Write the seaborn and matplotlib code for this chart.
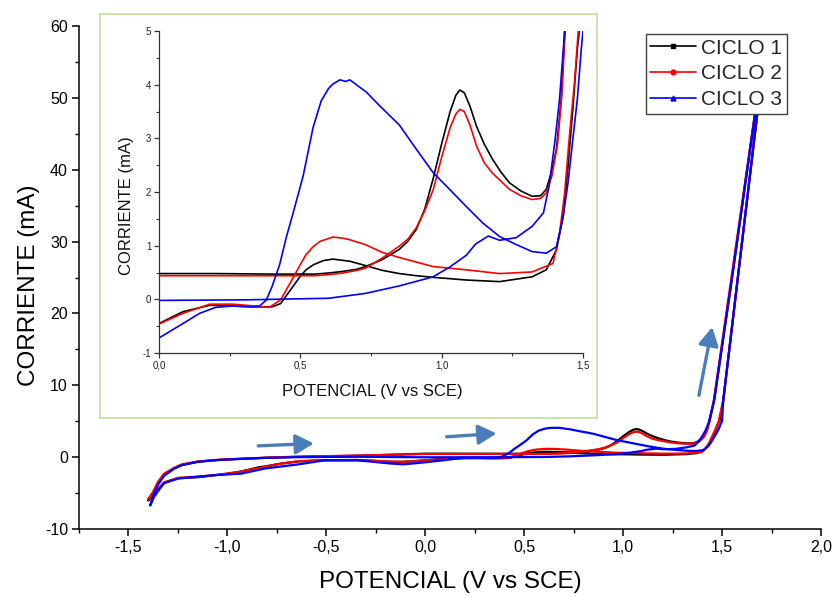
import matplotlib
matplotlib.use("Agg")
import matplotlib.pyplot as plt
from matplotlib.lines import Line2D
from matplotlib.ticker import MultipleLocator, FuncFormatter
import numpy as np
import pandas as pd
import seaborn as sns

# ---------------- data ----------------
ciclos = ["CICLO 1", "CICLO 2", "CICLO 3"]
colores = ["#000000", "#ff0000", "#0000ff"]

# CICLO 1 - forward (upper) branch
c1_ida_v = [-1.40, -1.375, -1.35, -1.32, -1.27, -1.23, -1.15, -1.06, -0.98, -0.81, -0.64, -0.34,
            0.0, 0.2, 0.4, 0.55, 0.6, 0.65, 0.7, 0.73, 0.79, 0.85, 0.88, 0.91, 0.94, 0.97, 1.00,
            1.03, 1.05, 1.064, 1.08, 1.10, 1.123, 1.15, 1.18, 1.21, 1.24, 1.28, 1.32, 1.35, 1.37,
            1.39, 1.406, 1.423, 1.435, 1.46, 1.55, 1.667, 1.70]
c1_ida_i = [-6.0, -5.0, -3.6, -2.5, -1.6, -1.1, -0.65, -0.42, -0.3, -0.1, 0.05, 0.2,
            0.48, 0.48, 0.47, 0.47, 0.49, 0.52, 0.56, 0.61, 0.74, 0.93, 1.08, 1.3, 1.68, 2.25, 2.9,
            3.5, 3.8, 3.9, 3.85, 3.6, 3.23, 2.9, 2.61, 2.37, 2.17, 2.02, 1.92, 1.93, 2.05,
            2.4, 2.8, 3.73, 5.0, 7.9, 24.9, 47.8, 54.0]
# CICLO 1 - reverse (lower) branch
c1_vuelta_v = [1.70, 1.678, 1.60, 1.55, 1.506, 1.487, 1.48, 1.464, 1.447, 1.43, 1.406, 1.37, 1.32,
               1.205, 1.087, 0.97, 0.91, 0.85, 0.79, 0.73, 0.675, 0.615, 0.58, 0.545, 0.52, 0.50,
               0.47, 0.43, 0.40, 0.34, 0.26, 0.18, 0.085, 0.0, -0.11, -0.17, -0.34, -0.51, -0.64,
               -0.73, -0.81, -0.84, -0.93, -1.02, -1.06, -1.15, -1.25, -1.32, -1.34, -1.37, -1.40]
c1_vuelta_i = [54.0, 47.8, 29.7, 18.1, 7.9, 5.0, 4.67, 3.54, 2.48, 1.55, 0.92, 0.55, 0.42,
               0.33, 0.36, 0.41, 0.44, 0.48, 0.54, 0.63, 0.71, 0.75, 0.72, 0.64, 0.55, 0.43,
               0.21, -0.08, -0.14, -0.14, -0.125, -0.11, -0.23, -0.45, -0.65, -0.65, -0.4, -0.42,
               -0.6, -0.9, -1.3, -1.4, -2.0, -2.4, -2.5, -2.8, -2.9, -3.6, -4.3, -5.3, -6.0]

# CICLO 2
c2_ida_v = [-1.40, -1.375, -1.35, -1.32, -1.27, -1.23, -1.15, -1.06, -0.98, -0.81, -0.64, -0.34,
            0.0, 0.2, 0.4, 0.55, 0.6, 0.65, 0.7, 0.73, 0.79, 0.85, 0.88, 0.91, 0.94, 0.97, 1.00,
            1.03, 1.05, 1.064, 1.08, 1.10, 1.123, 1.15, 1.18, 1.24, 1.28, 1.32, 1.35, 1.37, 1.39,
            1.41, 1.425, 1.437, 1.46, 1.55, 1.667, 1.70]
c2_ida_i = [-5.85, -4.8, -3.4, -2.3, -1.5, -1.0, -0.6, -0.4, -0.28, -0.08, 0.07, 0.22,
            0.44, 0.44, 0.44, 0.44, 0.46, 0.49, 0.54, 0.58, 0.77, 0.99, 1.12, 1.33, 1.65, 2.04, 2.65,
            3.2, 3.45, 3.54, 3.5, 3.25, 2.86, 2.55, 2.35, 2.05, 1.93, 1.86, 1.88, 1.98, 2.3,
            2.9, 3.8, 5.0, 8.2, 25.5, 48.0, 54.0]
c2_vuelta_v = [1.70, 1.678, 1.60, 1.55, 1.506, 1.483, 1.47, 1.453, 1.435, 1.417, 1.394, 1.32,
               1.205, 1.087, 0.97, 0.85, 0.79, 0.73, 0.675, 0.65, 0.615, 0.57, 0.545, 0.52, 0.50,
               0.47, 0.43, 0.39, 0.34, 0.26, 0.18, 0.085, 0.0, -0.11, -0.17, -0.34, -0.51, -0.64,
               -0.73, -0.81, -0.93, -1.02, -1.06, -1.15, -1.25, -1.32, -1.34, -1.37, -1.40]
c2_vuelta_i = [54.0, 47.8, 29.7, 18.1, 7.9, 4.98, 4.05, 3.1, 1.98, 1.23, 0.67, 0.51,
               0.48, 0.55, 0.61, 0.78, 0.875, 1.02, 1.11, 1.14, 1.16, 1.08, 0.98, 0.83, 0.65,
               0.36, -0.01, -0.15, -0.125, -0.09, -0.09, -0.26, -0.46, -0.65, -0.62, -0.4, -0.42,
               -0.55, -0.9, -1.35, -2.0, -2.35, -2.5, -2.75, -2.9, -3.5, -4.1, -5.0, -5.85]

# CICLO 3
c3_ida_v = [-1.39, -1.375, -1.35, -1.32, -1.27, -1.23, -1.15, -1.06, -0.98, -0.81, -0.64, -0.34,
            0.0, 0.3, 0.6, 0.73, 0.85, 0.97, 1.028, 1.087, 1.12, 1.165, 1.205, 1.264, 1.32, 1.36,
            1.38, 1.40, 1.417, 1.435, 1.46, 1.55, 1.667, 1.70]
c3_ida_i = [-6.7, -5.3, -3.8, -2.6, -1.6, -1.1, -0.65, -0.42, -0.3, -0.1, 0.0, 0.05,
            -0.02, -0.01, 0.02, 0.11, 0.25, 0.42, 0.6, 0.82, 1.03, 1.18, 1.1, 1.15, 1.36, 1.61,
            2.11, 2.92, 3.73, 4.98, 7.9, 24.9, 47.8, 54.0]
c3_vuelta_v = [1.70, 1.678, 1.60, 1.55, 1.506, 1.50, 1.494, 1.48, 1.464, 1.447, 1.43, 1.406, 1.37,
               1.32, 1.264, 1.205, 1.146, 1.087, 1.028, 0.97, 0.91, 0.85, 0.78, 0.734, 0.675,
               0.66, 0.64, 0.615, 0.60, 0.574, 0.545, 0.51, 0.474, 0.45, 0.427, 0.40, 0.38, 0.356,
               0.32, 0.26, 0.20, 0.144, 0.085, 0.0, -0.11, -0.17, -0.34, -0.51, -0.64, -0.81,
               -0.93, -1.06, -1.15, -1.25, -1.32, -1.34, -1.37, -1.39]
c3_vuelta_i = [54.0, 47.8, 29.7, 18.1, 7.9, 5.0, 4.67, 3.73, 2.98, 2.17, 1.55, 0.98, 0.86,
               0.89, 1.02, 1.17, 1.42, 1.73, 2.05, 2.36, 2.80, 3.25, 3.61, 3.86, 4.09,
               4.06, 4.09, 4.01, 3.93, 3.7, 3.2, 2.3, 1.6, 1.15, 0.65, 0.24, -0.01, -0.125,
               -0.14, -0.125, -0.15, -0.26, -0.45, -0.72, -1.0, -0.9, -0.45, -0.45, -1.0, -1.58,
               -2.3, -2.5, -2.7, -3.0, -3.6, -4.3, -5.5, -6.7]

main_xticks = [-1.5, -1.0, -0.5, 0.0, 0.5, 1.0, 1.5, 2.0]
main_yticks = [-10, 0, 10, 20, 30, 40, 50, 60]
inset_xticks = [0.0, 0.5, 1.0, 1.5]
inset_yticks = [-1, 0, 1, 2, 3, 4, 5]

# ---------------- build table ----------------
frames = []
for name, v_a, i_a, v_b, i_b in [
    (ciclos[0], c1_ida_v, c1_ida_i, c1_vuelta_v, c1_vuelta_i),
    (ciclos[1], c2_ida_v, c2_ida_i, c2_vuelta_v, c2_vuelta_i),
    (ciclos[2], c3_ida_v, c3_ida_i, c3_vuelta_v, c3_vuelta_i),
]:
    frames.append(pd.DataFrame({"potencial": list(v_a) + list(v_b),
                                "corriente": list(i_a) + list(i_b),
                                "ciclo": name}))
df = pd.concat(frames, ignore_index=True)

# ---------------- style ----------------
sns.set_theme(style="white")
plt.rcParams["font.family"] = ["Liberation Sans", "DejaVu Sans"]
plt.rcParams["axes.unicode_minus"] = False

W, H = 833, 597
fig = plt.figure(figsize=(W / 100, H / 100), dpi=100)
fig.patch.set_facecolor("white")

def fr(l, t, r, b):
    return [l / W, 1 - b / H, (r - l) / W, (b - t) / H]

comma = FuncFormatter(lambda x, p: f"{x:.1f}".replace(".", ","))
intfmt = FuncFormatter(lambda x, p: f"{int(round(x))}")

# ---------------- main axes ----------------
ax = fig.add_axes(fr(79, 26, 821, 529))
ax.set_facecolor("white")
sns.lineplot(data=df, x="potencial", y="corriente", hue="ciclo", hue_order=ciclos,
             palette=colores, sort=False, estimator=None, lw=1.6, ax=ax, legend=False)
ax.set_xlim(-1.75, 2.0)
ax.set_ylim(-10, 60)
ax.set_xticks(main_xticks)
ax.set_yticks(main_yticks)
ax.xaxis.set_minor_locator(MultipleLocator(0.25))
ax.yaxis.set_minor_locator(MultipleLocator(5))
ax.xaxis.set_major_formatter(comma)
ax.yaxis.set_major_formatter(intfmt)
for s in ["top", "right"]:
    ax.spines[s].set_visible(False)
for s in ["left", "bottom"]:
    ax.spines[s].set_color("black")
    ax.spines[s].set_linewidth(1.1)
ax.tick_params(which="major", direction="out", length=5, width=1.1, color="black",
               labelsize=11.5, labelcolor="black", pad=3, bottom=True, left=True)
ax.tick_params(which="minor", direction="out", length=3, width=1.0, color="black",
               bottom=True, left=True)
ax.set_xlabel("POTENCIAL (V vs SCE)", fontsize=17.5, color="black")
ax.set_ylabel("CORRIENTE (mA)", fontsize=17.5, color="black")
ax.xaxis.set_label_coords(0.501, -0.083)
ax.yaxis.set_label_coords(-0.053, 0.485)

# arrows
arrow_color = "#4a7ebb"
flechas = [((-0.844, 1.57), (-0.563, 1.9)),
           ((0.108, 2.83), (0.360, 3.30)),
           ((1.383, 8.6), (1.450, 18.1))]
for (x0, y0), (x1, y1) in flechas:
    ax.annotate("", xy=(x1, y1), xytext=(x0, y0),
                arrowprops=dict(arrowstyle="-|>,head_length=0.55,head_width=0.3",
                                color=arrow_color, lw=2.4, mutation_scale=20,
                                shrinkA=0, shrinkB=0))

# legend
handles = [Line2D([], [], color=colores[0], lw=1.2, marker="s", markersize=3.5),
           Line2D([], [], color=colores[1], lw=1.2, marker="o", markersize=3.5),
           Line2D([], [], color=colores[2], lw=1.2, marker="^", markersize=3.5)]
leg = ax.legend(handles, ciclos, loc="upper right", bbox_to_anchor=(787 / W, 1 - 34 / H),
                bbox_transform=fig.transFigure, borderaxespad=0, fontsize=15,
                frameon=True, fancybox=False, framealpha=1, edgecolor="#404040",
                handlelength=2.2, handletextpad=0.25, labelspacing=0.32, borderpad=0.22)
leg.get_frame().set_linewidth(1.0)

# ---------------- inset box ----------------
box = fig.add_axes(fr(100, 14, 597, 418))
box.set_facecolor("white")
box.set_xticks([])
box.set_yticks([])
for s in box.spines.values():
    s.set_color("#c6e2a6")
    s.set_linewidth(1.3)

# ---------------- inset axes ----------------
axi = fig.add_axes(fr(159, 31, 583, 353))
axi.set_facecolor("none")
sns.lineplot(data=df, x="potencial", y="corriente", hue="ciclo", hue_order=ciclos,
             palette=colores, sort=False, estimator=None, lw=1.2, ax=axi, legend=False)
axi.set_xlim(0.0, 1.5)
axi.set_ylim(-1, 5)
axi.set_xticks(inset_xticks)
axi.set_yticks(inset_yticks)
axi.xaxis.set_minor_locator(MultipleLocator(0.25))
axi.yaxis.set_minor_locator(MultipleLocator(0.5))
axi.xaxis.set_major_formatter(comma)
axi.yaxis.set_major_formatter(intfmt)
for s in ["top", "right"]:
    axi.spines[s].set_visible(False)
for s in ["left", "bottom"]:
    axi.spines[s].set_color("#333333")
    axi.spines[s].set_linewidth(0.9)
axi.tick_params(which="major", direction="out", length=3.5, width=0.9, color="#333333",
                labelsize=7, labelcolor="#222222", pad=2, bottom=True, left=True)
axi.tick_params(which="minor", direction="out", length=2, width=0.8, color="#333333",
                bottom=True, left=True)
axi.set_xlabel("POTENCIAL (V vs SCE)", fontsize=12, color="#111111")
axi.set_ylabel("CORRIENTE (mA)", fontsize=12, color="#111111")
axi.xaxis.set_label_coords(0.502, -0.095)
axi.yaxis.set_label_coords(-0.058, 0.457)

fig.savefig("out.png", dpi=100, facecolor="white")
